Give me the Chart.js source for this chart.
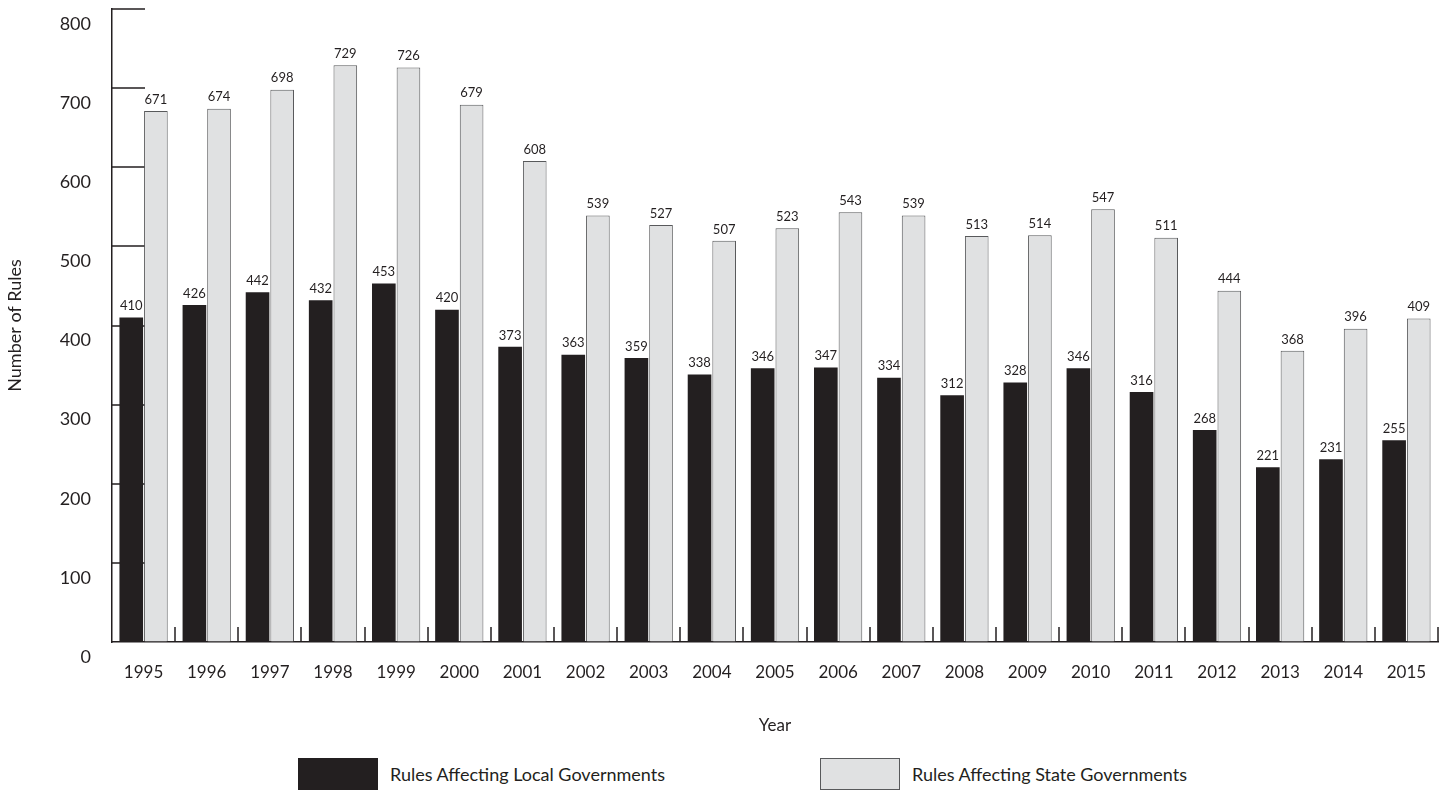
<!DOCTYPE html>
<html>
<head>
<meta charset="utf-8">
<script src="https://cdn.jsdelivr.net/npm/chart.js@4.4.1/dist/chart.umd.min.js"></script>
<style>
  html, body { margin: 0; padding: 0; background: #fff; }
  #wrap { width: 1447px; height: 750px; position: relative; }
  .legend { display: flex; margin-top: 8px; padding-left: 298px; font-family: Lato, sans-serif; font-size: 18px; color: #231f20; }
  .legend .item { display: flex; align-items: center; }
  .legend .item:first-child { width: 522px; }
  .legend .box { width: 80px; height: 32px; margin-right: 12px; box-sizing: border-box; }
</style>
</head>
<body>
<div id="wrap"><canvas id="rulesChart"></canvas></div>
<div class="legend">
  <div class="item"><span class="box" style="background:#231f20"></span>Rules Affecting Local Governments</div>
  <div class="item"><span class="box" style="background:#e0e1e2;border:1px solid #58595b"></span>Rules Affecting State Governments</div>
</div>
<script>
const years = ['1995','1996','1997','1998','1999','2000','2001','2002','2003','2004','2005',
               '2006','2007','2008','2009','2010','2011','2012','2013','2014','2015'];
const localRules = [410, 426, 442, 432, 453, 420, 373, 363, 359, 338, 346, 347, 334, 312, 328, 346, 316, 268, 221, 231, 255];
const stateRules = [671, 674, 698, 729, 726, 679, 608, 539, 527, 507, 523, 543, 539, 513, 514, 547, 511, 444, 368, 396, 409];
const yTicks = [0, 100, 200, 300, 400, 500, 600, 700, 800];

const ink = '#231f20';
const font = 'Lato, sans-serif';

// inward tick marks on the value axis and short category dividers on the baseline
const axisMarks = {
  id: 'axisMarks',
  beforeDatasetsDraw(chart) {
    const { ctx, chartArea: a, scales: { x, y } } = chart;
    ctx.save();
    ctx.strokeStyle = ink;
    ctx.lineWidth = 1.5;
    ctx.beginPath();
    yTicks.forEach(v => {
      if (v === 0) return;
      const py = Math.round(y.getPixelForValue(v));
      ctx.moveTo(a.left, py);
      ctx.lineTo(a.left + 33, py);
    });
    for (let i = 1; i <= years.length; i++) {
      const px = Math.round(x.getPixelForValue(i - 0.5));
      ctx.moveTo(px, a.bottom);
      ctx.lineTo(px, a.bottom - 15);
    }
    ctx.stroke();
    ctx.restore();
  }
};

// value printed above every bar
const barValues = {
  id: 'barValues',
  afterDatasetsDraw(chart) {
    const { ctx } = chart;
    ctx.save();
    ctx.fillStyle = ink;
    ctx.font = '13px ' + font;
    ctx.textAlign = 'center';
    ctx.textBaseline = 'bottom';
    chart.data.datasets.forEach((ds, di) => {
      chart.getDatasetMeta(di).data.forEach((bar, i) => {
        ctx.fillText(ds.data[i], bar.x, bar.y - 5);
      });
    });
    ctx.restore();
  }
};

new Chart(document.getElementById('rulesChart'), {
  type: 'bar',
  data: {
    labels: years,
    datasets: [
      { label: 'Rules Affecting Local Governments', data: localRules,
        backgroundColor: ink, borderWidth: 0 },
      { label: 'Rules Affecting State Governments', data: stateRules,
        backgroundColor: '#e0e1e2', borderColor: '#58595b', borderWidth: 1 }
    ]
  },
  options: {
    responsive: true,
    maintainAspectRatio: false,
    animation: false,
    layout: { padding: { top: 9, right: 9, left: 0, bottom: 0 } },
    datasets: { bar: { barPercentage: 0.96, categoryPercentage: 0.78 } },
    plugins: { legend: { display: false }, tooltip: { enabled: false } },
    scales: {
      x: {
        grid: { drawOnChartArea: false, drawTicks: false },
        border: { display: true, color: ink, width: 1.5 },
        ticks: { color: ink, padding: 20, font: { family: font, size: 17 } },
        title: { display: true, text: 'Year', color: ink, padding: { top: 20, bottom: 14 }, font: { family: font, size: 17 } },
        afterFit(scale) { scale.height = 108; }
      },
      y: {
        min: 0, max: 800,
        afterBuildTicks(scale) { scale.ticks = yTicks.map(v => ({ value: v })); },
        grid: { drawOnChartArea: false, drawTicks: false },
        border: { display: true, color: ink, width: 1.5 },
        ticks: { color: ink, padding: 21, labelOffset: 15, font: { family: font, size: 18 } },
        title: { display: true, text: 'Number of Rules', color: ink, padding: { bottom: 0 }, font: { family: font, size: 18 } },
        afterFit(scale) {
          scale.width = 112;
          // labels sit below their ticks, so no extra room is needed at the top
          scale.paddingTop = 0;
          scale.paddingBottom = 0;
        }
      }
    }
  },
  plugins: [axisMarks, barValues]
});
</script>
</body>
</html>
